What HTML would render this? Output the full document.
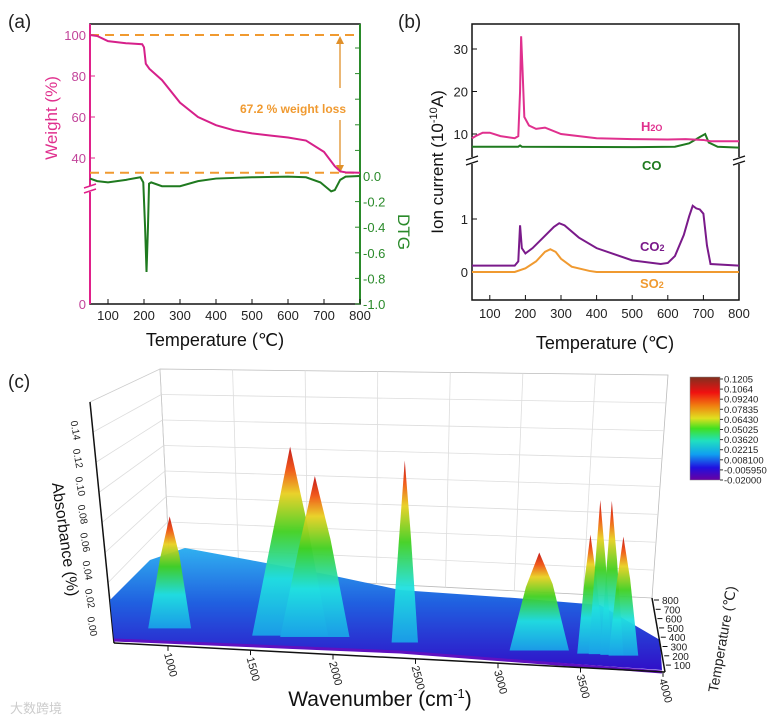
<!DOCTYPE html>
<html><head><meta charset="utf-8">
<style>
body{margin:0;background:#fff;}
svg{display:block;font-family:"Liberation Sans",sans-serif;}
</style></head>
<body>
<svg id="fig" width="775" height="719" viewBox="0 0 775 719">
<defs>
<linearGradient id="peakGrad" x1="0" y1="1" x2="0" y2="0">
<stop offset="0" stop-color="#1aa0e8"/><stop offset="0.3" stop-color="#20e0e0"/><stop offset="0.55" stop-color="#40d020"/><stop offset="0.75" stop-color="#e8d020"/><stop offset="0.88" stop-color="#f05010"/><stop offset="1" stop-color="#c01010"/>
</linearGradient>
<linearGradient id="baseGrad" x1="0" y1="0" x2="0" y2="1">
<stop offset="0" stop-color="#30b0f0"/><stop offset="0.45" stop-color="#2060e0"/><stop offset="1" stop-color="#3010c8"/>
</linearGradient>
<linearGradient id="cbGrad" x1="0" y1="1" x2="0" y2="0">
<stop offset="0" stop-color="#6a00a0"/><stop offset="0.12" stop-color="#2010e0"/><stop offset="0.25" stop-color="#10a0f0"/><stop offset="0.38" stop-color="#20e0c0"/><stop offset="0.5" stop-color="#40e020"/><stop offset="0.6" stop-color="#e0e020"/><stop offset="0.72" stop-color="#f08010"/><stop offset="0.85" stop-color="#f01010"/><stop offset="1" stop-color="#803020"/>
</linearGradient>
</defs>
<g id="pa"></g>
<g id="pb"></g>
<g id="pc"></g>
</svg>
<script>
// ---------- Panel (a) data ----------
const aTemps = [50,70,100,150,195,200,205,215,250,300,350,400,450,500,550,600,650,700,730,745,760,800];
const aWeight = [100,99.5,97,96,95.5,94,86,83.5,78,67,60,56,53.5,52,51,50,48.5,43,36,33.5,33,32.8];
const dtgTemps = [50,70,100,150,190,198,203,207,211,214,220,250,300,350,400,500,600,650,690,720,730,745,760,800];
const dtgVals = [-0.02,-0.04,-0.05,-0.03,-0.01,-0.05,-0.4,-0.75,-0.4,-0.06,-0.05,-0.08,-0.08,-0.04,-0.02,-0.01,-0.005,-0.01,-0.05,-0.12,-0.11,-0.03,-0.005,0];
const xTicks = [100,200,300,400,500,600,700,800];
const wTicks = [100,80,60,40];
const dtgTicks = [0,-0.2,-0.4,-0.6,-0.8,-1.0];
// ---------- Panel (b) data ----------
const h2oT = [50,60,80,100,130,170,180,185,188,192,197,210,230,255,300,400,500,600,650,700,720,800];
const h2oV = [9,9.5,10.3,10.3,9.5,9,9.5,20,33,25,14,12,11.2,11.5,10,9,8.8,8.7,8.8,8.6,8.3,8.3];
const coT = [50,180,185,190,500,620,660,690,705,715,740,800];
const coV = [7,7,7.3,7,6.9,7,7.8,9.3,10,8,7,6.8];
const co2T = [50,170,180,185,190,200,220,250,280,295,310,350,400,500,580,600,620,645,660,670,680,690,700,710,720,800];
const co2V = [0.12,0.12,0.2,0.88,0.45,0.35,0.45,0.65,0.85,0.92,0.88,0.65,0.45,0.22,0.15,0.17,0.3,0.7,1.05,1.25,1.2,1.18,1.1,0.5,0.15,0.12];
const so2T = [50,170,200,230,255,270,285,300,330,380,400,800];
const so2V = [0,0,0.07,0.2,0.38,0.43,0.38,0.25,0.1,0.02,0,0];
const bUpTicks = [30,20,10];
const bLowTicks = [1,0];
// ---------- Panel (c) data ----------
const peakWn = [1010,1740,1890,2435,3250,3560,3620,3690,3760];
const peakAbs = [0.055,0.11,0.09,0.105,0.045,0.06,0.085,0.085,0.06];
const peakHalfWidth = [130,230,210,80,180,80,70,70,90];
const wnTicks = [1000,1500,2000,2500,3000,3500,4000];
const absTicks = [0.00,0.02,0.04,0.06,0.08,0.10,0.12,0.14];
const tempTicks = [800,700,600,500,400,300,200,100];
const cbLabels = ["0.1205","0.1064","0.09240","0.07835","0.06430","0.05025","0.03620","0.02215","0.008100","-0.005950","-0.02000"];

const NS="http://www.w3.org/2000/svg";
function mk(parent,tag,attrs,text){const e=document.createElementNS(NS,tag);for(const k in attrs)e.setAttribute(k,attrs[k]);if(text!==undefined)e.textContent=text;parent.appendChild(e);return e;}

// ===== Panel A =====
const pa=document.getElementById('pa');
const ax=t=>90+(t-50)*270/750;
const ayW=w=>35+(100-w)*41/20;
const ayD=v=>176-v*128;
let e;
e=mk(pa,'text',{x:8,y:28,'font-size':19,fill:'#222'},'(a)');

e=mk(pa,'rect',{x:90,y:24,width:270,height:280,fill:'none',stroke:'#111','stroke-width':1.5});

e=mk(pa,'line',{x1:90,y1:24,x2:90,y2:304,stroke:'#e0208a','stroke-width':2});

e=mk(pa,'line',{x1:360,y1:24,x2:360,y2:304,stroke:'#2a8a2a','stroke-width':2});

mk(pa,'rect',{x:85,y:186,width:10,height:6,fill:'#fff'});
mk(pa,'line',{x1:84,y1:188,x2:96,y2:184,stroke:'#e0208a','stroke-width':1.5});
mk(pa,'line',{x1:84,y1:193,x2:96,y2:189,stroke:'#e0208a','stroke-width':1.5});
xTicks.forEach(t=>{mk(pa,'line',{x1:ax(t),y1:304,x2:ax(t),y2:299,stroke:'#111'});
 e=mk(pa,'text',{x:ax(t),y:320,'font-size':13,fill:'#222','text-anchor':'middle'},t);
 });
wTicks.forEach(w=>{mk(pa,'line',{x1:90,y1:ayW(w),x2:95,y2:ayW(w),stroke:'#e0208a'});
 e=mk(pa,'text',{x:86,y:ayW(w)+5,'font-size':13,fill:'#c2449a','text-anchor':'end'},w);
 });
e=mk(pa,'text',{x:86,y:309,'font-size':13,fill:'#c2449a','text-anchor':'end'},'0');

for(let i=1;i<=5;i++){mk(pa,'line',{x1:360,y1:ayD(0.2*i),x2:355,y2:ayD(0.2*i),stroke:'#2a8a2a'});}
dtgTicks.forEach(v=>{mk(pa,'line',{x1:360,y1:ayD(v),x2:355,y2:ayD(v),stroke:'#2a8a2a'});
 e=mk(pa,'text',{x:363,y:ayD(v)+5,'font-size':13,fill:'#2a8a2a'},v.toFixed(1));
 });
e=mk(pa,'text',{x:57,y:118,'font-size':17,fill:'#e0308e','text-anchor':'middle',transform:'rotate(-90 57 118)'},'Weight (%)');

e=mk(pa,'text',{x:398,y:232,'font-size':17,fill:'#2a8a2a','text-anchor':'middle',transform:'rotate(90 398 232)'},'DTG');

e=mk(pa,'text',{x:215,y:346,'font-size':18,fill:'#111','text-anchor':'middle'},'Temperature (℃)');

e=mk(pa,'line',{x1:90,y1:ayW(100),x2:356,y2:ayW(100),stroke:'#f09a30','stroke-width':2,'stroke-dasharray':'9,6'});

e=mk(pa,'line',{x1:90,y1:ayW(32.8),x2:356,y2:ayW(32.8),stroke:'#f09a30','stroke-width':2,'stroke-dasharray':'9,6'});

mk(pa,'line',{x1:340,y1:40,x2:340,y2:88,stroke:'#e0902a','stroke-width':1.3});
mk(pa,'line',{x1:340,y1:120,x2:340,y2:168,stroke:'#e0902a','stroke-width':1.3});
mk(pa,'path',{d:'M336,44 L340,36 L344,44 Z M336,165 L340,173 L344,165 Z',fill:'#e0902a'});
e=mk(pa,'text',{x:293,y:113,'font-size':12,'font-weight':'bold',fill:'#f09a30','text-anchor':'middle'},'67.2 % weight loss');

e=mk(pa,'polyline',{points:aTemps.map((t,i)=>ax(t)+','+ayW(aWeight[i])).join(' '),fill:'none',stroke:'#d6208a','stroke-width':2});

e=mk(pa,'polyline',{points:dtgTemps.map((t,i)=>ax(t)+','+ayD(dtgVals[i])).join(' '),fill:'none',stroke:'#1f7a1f','stroke-width':2});


// ===== Panel B =====
const pb=document.getElementById('pb');
const bx=t=>472+(t-50)*267/750;
const byU=v=>134-(v-10)*4.25;
const byL=v=>272-v*53;
e=mk(pb,'text',{x:398,y:28,'font-size':19,fill:'#222'},'(b)');

e=mk(pb,'rect',{x:472,y:24,width:267,height:276,fill:'none',stroke:'#111','stroke-width':1.5});

mk(pb,'rect',{x:466,y:157,width:12,height:7,fill:'#fff'});
mk(pb,'rect',{x:733,y:157,width:12,height:7,fill:'#fff'});
[[466,478],[733,745]].forEach(p=>{mk(pb,'line',{x1:p[0],y1:160,x2:p[1],y2:156,stroke:'#111','stroke-width':1.3});mk(pb,'line',{x1:p[0],y1:165,x2:p[1],y2:161,stroke:'#111','stroke-width':1.3});});
xTicks.forEach(t=>{mk(pb,'line',{x1:bx(t),y1:300,x2:bx(t),y2:295,stroke:'#111'});
 e=mk(pb,'text',{x:bx(t),y:318,'font-size':13,fill:'#222','text-anchor':'middle'},t);
 });
bUpTicks.forEach(v=>{mk(pb,'line',{x1:472,y1:byU(v),x2:477,y2:byU(v),stroke:'#111'});
 e=mk(pb,'text',{x:468,y:byU(v)+5,'font-size':13,fill:'#222','text-anchor':'end'},v);
 });
bLowTicks.forEach(v=>{mk(pb,'line',{x1:472,y1:byL(v),x2:477,y2:byL(v),stroke:'#111'});
 e=mk(pb,'text',{x:468,y:byL(v)+5,'font-size':13,fill:'#222','text-anchor':'end'},v);
 });
e=mk(pb,'text',{x:443,y:162,'font-size':17,fill:'#111','text-anchor':'middle',transform:'rotate(-90 443 162)'});

e.innerHTML='Ion current (10<tspan dy="-6" font-size="11">-10</tspan><tspan dy="6">A)</tspan>';
e=mk(pb,'text',{x:605,y:349,'font-size':18,fill:'#111','text-anchor':'middle'},'Temperature (℃)');

function series(T,V,fy,col,name){e=mk(pb,'polyline',{points:T.map((t,i)=>bx(t)+','+fy(V[i])).join(' '),fill:'none',stroke:col,'stroke-width':2});
 }
series(coT,coV,byU,'#1f7a1f','co-curve');
series(h2oT,h2oV,byU,'#e0308e','h2o-curve');
series(so2T,so2V,byL,'#f09a30','so2-curve');
series(co2T,co2V,byL,'#7a1a8a','co2-curve');
function lab(x,y,col,main,sub,name){e=mk(pb,'text',{x:x,y:y,'font-size':13,'font-weight':'bold',fill:col});
 
 e.innerHTML=main+(sub?'<tspan font-size="9">'+sub+'</tspan>':'');}
lab(641,131,'#e0308e','H','2O','legend-h2o');
lab(642,170,'#1f7a1f','CO','','legend-co');
lab(640,251,'#7a1a8a','CO','2','legend-co2');
lab(640,288,'#f09a30','SO','2','legend-so2');

// ===== Panel C =====
const pc=document.getElementById('pc');
const cx=w=>168+(w-1000)*0.165;
const baseY=x=>600+(x-114)*0.06;
e=mk(pc,'text',{x:8,y:388,'font-size':19,fill:'#222'},'(c)');

// walls
mk(pc,'polygon',{points:'160,369 668,375 652,598 170,573',fill:'#fff',stroke:'#bbb','stroke-width':0.8});
for(let i=1;i<7;i++){const x1=160+i*508/7,x2=170+i*482/7;mk(pc,'line',{x1:x1,y1:369+i*6/7,x2:x2,y2:573+i*25/7,stroke:'#ddd','stroke-width':0.8});}
for(let i=1;i<8;i++){const y1=369+i*204/8;mk(pc,'line',{x1:160+i*10/8,y1:y1,x2:668-i*16/8,y2:375+i*223/8,stroke:'#ddd','stroke-width':0.8});}
mk(pc,'polygon',{points:'90,402 160,369 170,573 114,643',fill:'none',stroke:'#ccc','stroke-width':0.8});
for(let i=1;i<8;i++){mk(pc,'line',{x1:90+i*24/8,y1:402+i*241/8,x2:160+i*10/8,y2:369+i*204/8,stroke:'#ddd','stroke-width':0.8});}
e=mk(pc,'line',{x1:90,y1:402,x2:114,y2:643,stroke:'#111','stroke-width':1.5});

// base surface
e=mk(pc,'polygon',{points:'110,600 150,560 185,548 250,560 330,575 400,590 515,598 600,605 660,640 662,670 400,652 114,640',fill:'url(#baseGrad)'});

mk(pc,'polyline',{points:'114,640 400,652 662,672',fill:'none',stroke:'#6010c0','stroke-width':3});
// peaks
peakWn.forEach((w,i)=>{const x=cx(w),hw=peakHalfWidth[i]*0.165,b=baseY(x)-10,top=b-peakAbs[i]*1400;
 const p=mk(pc,'polygon',{points:(x-hw)+','+(b+35)+' '+(x-hw*0.45)+','+(b-(b-top)*0.45)+' '+x+','+top+' '+(x+hw*0.45)+','+(b-(b-top)*0.5)+' '+(x+hw)+','+(b+35),fill:'url(#peakGrad)',opacity:0.95});
 
 });
// front axis
e=mk(pc,'line',{x1:114,y1:643,x2:665,y2:672,stroke:'#111','stroke-width':1.5});

e=mk(pc,'line',{x1:665,y1:672,x2:652,y2:598,stroke:'#111','stroke-width':1.5});

wnTicks.forEach(w=>{const x=cx(w),y=643+(x-114)*29/551;mk(pc,'line',{x1:x,y1:y,x2:x,y2:y+5,stroke:'#111'});
 e=mk(pc,'text',{x:x-4,y:y+8,'font-size':11,fill:'#222',transform:'rotate(75 '+(x-4)+' '+(y+8)+')'},w);
 });
absTicks.forEach((v,i)=>{const y=627-i*28,x=95-i*2.4;
 e=mk(pc,'text',{x:x-6,y:y,'font-size':10,fill:'#222',transform:'rotate(80 '+(x-6)+' '+y+')','text-anchor':'middle'},v.toFixed(2));
 });
e=mk(pc,'text',{x:60,y:540,'font-size':16,fill:'#111','text-anchor':'middle',transform:'rotate(82 60 540)'},'Absorbance (%)');

tempTicks.forEach((t,i)=>{const y=600+i*9.3,x=654+i*1.7;mk(pc,'line',{x1:x,y1:y,x2:x+5,y2:y,stroke:'#111'});
 e=mk(pc,'text',{x:x+8,y:y+4,'font-size':10,fill:'#222'},t);
 });
e=mk(pc,'text',{x:727,y:640,'font-size':14,fill:'#222','text-anchor':'middle',transform:'rotate(-80 727 640)'},'Temperature (℃)');

e=mk(pc,'text',{x:380,y:706,'font-size':21,fill:'#111','text-anchor':'middle'});

e.innerHTML='Wavenumber (cm<tspan dy="-8" font-size="13">-1</tspan><tspan dy="8">)</tspan>';
// colorbar
e=mk(pc,'rect',{x:690,y:377,width:30,height:103,fill:'url(#cbGrad)',stroke:'#888','stroke-width':0.5});

cbLabels.forEach((s,i)=>{const y=379+i*10.1;mk(pc,'line',{x1:720,y1:y,x2:723,y2:y,stroke:'#333'});
 e=mk(pc,'text',{x:724,y:y+3.5,'font-size':9.5,fill:'#222'},s);
 });
e=mk(pc,'text',{x:10,y:713,'font-size':13,fill:'#ccc'},'大数跨境');

</script>
</body></html>
